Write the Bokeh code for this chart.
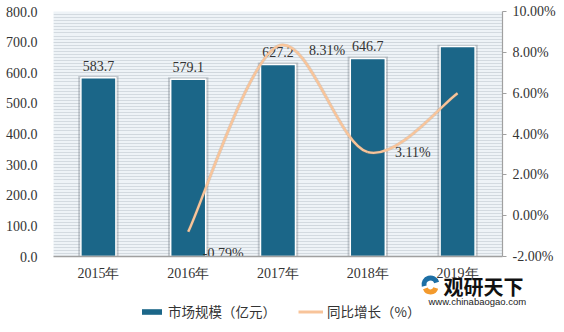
import numpy as np
from bokeh.plotting import figure
from bokeh.layouts import column
from bokeh.models import (Range1d, LinearAxis, FixedTicker, Legend, LegendItem,
                          ColumnDataSource)
from bokeh.embed import file_html
from bokeh.resources import INLINE
from bokeh.core.properties import value

# ---- data ----
years = ["2015年", "2016年", "2017年", "2018年", "2019年"]
market = [583.7, 579.1, 627.2, 646.7, 685.5]
market_labels = ["583.7", "579.1", "627.2", "646.7", ""]
growth_years = [1, 2, 3, 4]          # indexes of years having growth values
growth = [-0.79, 8.31, 3.11, 6.0]
growth_labels = ["-0.79%", "8.31%", "3.11%", ""]
left_ticks = [0, 100, 200, 300, 400, 500, 600, 700, 800]
right_ticks = [-2, 0, 2, 4, 6, 8, 10]
series_names = ["市场规模（亿元）", "同比增长（%）"]

FONT = "Liberation Serif"
CJK = "Noto Sans CJK SC"
BAR = "#1b6688"
LINE = "#f8c49a"
TXT = "#333333"

# ---- layout constants (pixels) ----
W, H = 564, 332
FL, FR, FT = 53, 62, 11
FW, FH = 449, 245
P_H = 264
Q_H = H - P_H

xs = list(range(len(years)))

p = figure(width=W, height=P_H, output_backend="svg", toolbar_location=None,
           x_range=Range1d(-0.5, 4.5), y_range=Range1d(0, 800),
           min_border_left=FL, min_border_right=FR, min_border_top=FT,
           min_border_bottom=P_H - FT - FH)
p.extra_y_ranges = {"pct": Range1d(-2, 10)}
p.background_fill_color = "#eef3f7"
p.border_fill_color = "white"
p.outline_line_color = None

# grid stripes
p.xgrid.grid_line_color = None
p.ygrid.grid_line_color = "#d0d7dd"
p.ygrid.grid_line_width = 1.2
p.ygrid.minor_grid_line_color = "#d3dae0"
p.ygrid.minor_grid_line_width = 1.2

# axes
la = p.yaxis[0]
la.ticker = FixedTicker(ticks=left_ticks, minor_ticks=list(np.arange(0, 801, 10)))
la.major_label_overrides = {t: f"{t:.1f}" for t in left_ticks}
la.axis_line_color = None
la.major_tick_line_color = None
la.minor_tick_line_color = None
la.major_label_standoff = 10
la.major_label_text_font = FONT
la.major_label_text_font_size = "14px"
la.major_label_text_color = TXT

xa = p.xaxis[0]
xa.ticker = FixedTicker(ticks=xs)
xa.major_label_overrides = {i: "" for i in xs}
xa.major_label_text_font_size = "0px"
xa.axis_line_color = "#a0a0a0"
xa.axis_line_width = 1.5
xa.major_tick_line_color = None
xa.minor_tick_line_color = None
xa.major_tick_out = 0
xa.major_tick_in = 0
xa.major_label_standoff = 0

ra = LinearAxis(y_range_name="pct", ticker=FixedTicker(ticks=right_ticks))
ra.major_label_overrides = {t: f"{t:.2f}%" for t in right_ticks}
ra.axis_line_color = "#a0a0a0"
ra.axis_line_width = 1.2
ra.major_tick_line_color = "#a0a0a0"
ra.major_tick_out = 4
ra.major_tick_in = 0
ra.minor_tick_line_color = None
ra.major_label_standoff = 6
ra.major_label_text_font = FONT
ra.major_label_text_font_size = "14px"
ra.major_label_text_color = TXT
p.add_layout(ra, "right")

# bars with soft shadow
src = ColumnDataSource(dict(x=xs, top=market, lab=market_labels,
                            shadow_top=[m + 6 for m in market]))
p.vbar(x="x", top="shadow_top", width=0.45, source=src, fill_color="#6f7880",
       fill_alpha=0.35, line_color=None)
p.vbar(x="x", top="top", width=0.39, source=src, fill_color=BAR,
       line_color="white", line_width=1.5)
p.text(x="x", y="top", text="lab", source=src, text_align="center",
       text_baseline="bottom", y_offset=-7, text_font=value(FONT),
       text_font_size="14px", text_color=TXT)

# smoothed growth line (cardinal spline through data points)
gx = np.array(growth_years, dtype=float)
gy = np.array(growth, dtype=float)
n = len(gx)
x0, y0, x1, y1, cx0, cy0, cx1, cy1 = ([] for _ in range(8))
for i in range(n - 1):
    pm = max(i - 1, 0)
    pn = min(i + 2, n - 1)
    x0.append(gx[i]); y0.append(gy[i])
    x1.append(gx[i + 1]); y1.append(gy[i + 1])
    cx0.append(gx[i] + (gx[i + 1] - gx[pm]) / 6)
    cy0.append(gy[i] + (gy[i + 1] - gy[pm]) / 6)
    cx1.append(gx[i + 1] - (gx[pn] - gx[i]) / 6)
    cy1.append(gy[i + 1] - (gy[pn] - gy[i]) / 6)
bsrc = ColumnDataSource(dict(x0=x0, y0=y0, x1=x1, y1=y1,
                             cx0=cx0, cy0=cy0, cx1=cx1, cy1=cy1))
p.bezier(x0="x0", y0="y0", x1="x1", y1="y1", cx0="cx0", cy0="cy0",
         cx1="cx1", cy1="cy1", source=bsrc, y_range_name="pct",
         line_color="#a08060", line_alpha=0.25, line_width=3.5)
p.bezier(x0="x0", y0="y0", x1="x1", y1="y1", cx0="cx0", cy0="cy0",
         cx1="cx1", cy1="cy1", source=bsrc, y_range_name="pct",
         line_color=LINE, line_width=2.4)

# growth labels (screen offsets: right, down)
offsets = [(35, 22), (49, 4), (45, 0), (0, 0)]
for i in range(n):
    if not growth_labels[i]:
        continue
    p.text(x=[gx[i]], y=[gy[i]], text=[growth_labels[i]], y_range_name="pct",
           x_offset=offsets[i][0], y_offset=offsets[i][1],
           text_align="center", text_baseline="middle",
           text_font=value(FONT), text_font_size="14px", text_color=TXT)

# ---- bottom strip: category labels, legend, watermark ----
q = figure(width=W, height=Q_H, output_backend="svg", toolbar_location=None,
           x_range=Range1d(0, W), y_range=Range1d(0, Q_H),
           min_border=0, x_axis_type=None, y_axis_type=None)
unit = FW / len(years)
q.extra_x_ranges = {"cat": Range1d(-0.5 - FL / unit, len(years) - 0.5 + FR / unit)}
q.extra_y_ranges = {"off": Range1d(5000, 6000), "offp": Range1d(5000, 6000)}
for fig in (p, q):
    if "frame_align" in fig.properties():
        fig.frame_align = False
q.grid.visible = False
q.outline_line_color = None
q.background_fill_color = "white"
q.border_fill_color = "white"

# category (x axis) labels, placed through the same category scale
q.text(x=xs, y=Q_H - 1, text=years, x_range_name="cat", text_align="center",
       text_baseline="top", text_font=value(FONT), text_font_size="14px",
       text_color=TXT)

# legend proxies (same series, mapped outside the visible strip)
lg_bar = q.vbar(x=xs, top=market, width=0.39, x_range_name="cat",
                y_range_name="off", fill_color=BAR, line_color=None)
lg_line = q.line(x=growth_years, y=growth, x_range_name="cat",
                 y_range_name="offp", line_color=LINE, line_width=3)
legend = Legend(items=[LegendItem(label=series_names[0], renderers=[lg_bar]),
                       LegendItem(label=series_names[1], renderers=[lg_line])],
                orientation="horizontal", location=(139, 11),
                border_line_color=None, background_fill_alpha=0,
                label_text_font=CJK, label_text_font_size="13.5px",
                label_text_color=TXT, glyph_width=25, glyph_height=7,
                label_standoff=4, spacing=22, margin=0, padding=4)
q.add_layout(legend)

# watermark logo
q.annular_wedge(x=[430], y=[48], inner_radius=4, outer_radius=9,
                start_angle=[0.3], end_angle=[3.4], fill_color="#1d6fa5",
                line_color=None)
q.annular_wedge(x=[430], y=[46], inner_radius=3, outer_radius=8,
                start_angle=[3.5], end_angle=[6.0], fill_color="#f39a2d",
                line_color=None)
q.text(x=[443], y=[46], text=["观研天下"], text_font=value(CJK),
       text_font_size="20px", text_font_style="bold", text_color="#111111",
       text_baseline="middle")
q.text(x=[428], y=[31], text=["www.chinabaogao.com"],
       text_font=value("Liberation Sans"), text_font_size="9.5px",
       text_color="#222222", text_baseline="middle")

layout = column(p, q, spacing=0)
open("out.html", "w").write(file_html(layout, INLINE))
